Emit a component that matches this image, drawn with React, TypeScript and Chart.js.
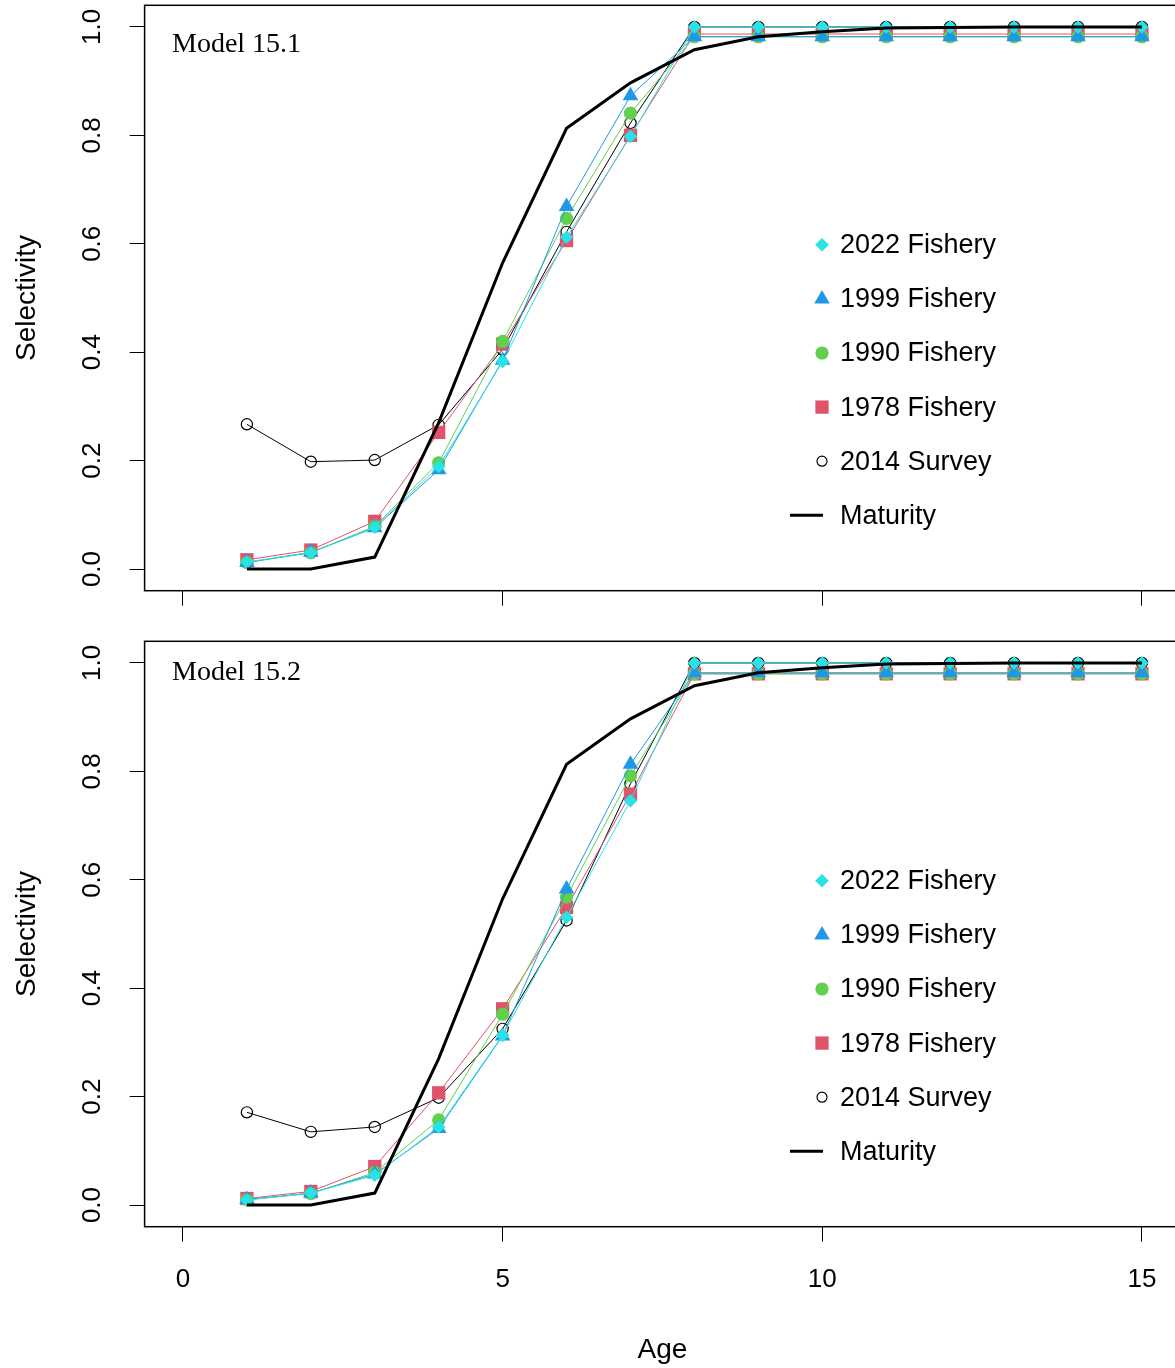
import React, { useEffect, useRef } from "react";
import { Chart, registerables } from "chart.js";
import { drawPoint } from "chart.js/helpers";

Chart.register(...registerables);

// Ages on the x axis and the axis tick values
const ages = [1, 2, 3, 4, 5, 6, 7, 8, 9, 10, 11, 12, 13, 14, 15];
const xTickValues = [0, 5, 10, 15];
const yTickValues = [0, 0.2, 0.4, 0.6, 0.8, 1.0];

// Legend / series names (legend order)
const seriesNames = ["2022 Fishery", "1999 Fishery", "1990 Fishery", "1978 Fishery", "2014 Survey", "Maturity"];

// Proportion mature at age (same in both models)
const maturity = [0.0, 0.0, 0.022, 0.27, 0.565, 0.813, 0.897, 0.958, 0.982, 0.991, 0.998, 0.999, 1.0, 1.0, 1.0];

// Model 15.1 selectivity at age
const m151Fishery2022 = [0.013, 0.03, 0.077, 0.189, 0.383, 0.612, 0.798, 1.0, 1.0, 1.0, 1.0, 1.0, 1.0, 1.0, 1.0];
const m151Fishery1999 = [0.012, 0.031, 0.076, 0.183, 0.385, 0.669, 0.873, 0.982, 0.982, 0.982, 0.982, 0.982, 0.982, 0.982, 0.982];
const m151Fishery1990 = [0.012, 0.03, 0.079, 0.196, 0.42, 0.647, 0.841, 0.982, 0.982, 0.982, 0.982, 0.982, 0.982, 0.982, 0.982];
const m151Fishery1978 = [0.017, 0.035, 0.088, 0.252, 0.415, 0.606, 0.8, 0.987, 0.987, 0.987, 0.987, 0.987, 0.987, 0.987, 0.987];
const m151Survey2014 = [0.267, 0.198, 0.201, 0.266, 0.405, 0.622, 0.823, 1.0, 1.0, 1.0, 1.0, 1.0, 1.0, 1.0, 1.0];

// Model 15.2 selectivity at age
const m152Fishery2022 = [0.009, 0.022, 0.055, 0.144, 0.313, 0.531, 0.746, 1.0, 1.0, 1.0, 1.0, 1.0, 1.0, 1.0, 1.0];
const m152Fishery1999 = [0.01, 0.022, 0.057, 0.141, 0.312, 0.583, 0.813, 0.982, 0.982, 0.982, 0.982, 0.982, 0.982, 0.982, 0.982];
const m152Fishery1990 = [0.01, 0.021, 0.06, 0.157, 0.352, 0.568, 0.792, 0.98, 0.98, 0.98, 0.98, 0.98, 0.98, 0.98, 0.98];
const m152Fishery1978 = [0.012, 0.025, 0.071, 0.207, 0.362, 0.549, 0.758, 0.98, 0.98, 0.98, 0.98, 0.98, 0.98, 0.98, 0.98];
const m152Survey2014 = [0.171, 0.135, 0.144, 0.198, 0.325, 0.525, 0.777, 1.0, 1.0, 1.0, 1.0, 1.0, 1.0, 1.0, 1.0];

// Styles per series, in legend order. "order" controls stacking (lower = drawn on top).
const seriesStyles = [
  { color: "#28E2E5", pointStyle: "rectRot", radius: 6.8, hollow: false, lineWidth: 1, order: 1 },
  { color: "#2297E6", pointStyle: "triangle", radius: 9, hollow: false, lineWidth: 1, order: 2 },
  { color: "#61D04F", pointStyle: "circle", radius: 6.6, hollow: false, lineWidth: 1, order: 3 },
  { color: "#DF536B", pointStyle: "rect", radius: 9.4, hollow: false, lineWidth: 1, order: 4 },
  { color: "#000000", pointStyle: "circle", radius: 5.6, hollow: true, lineWidth: 1, order: 5 },
  { color: "#000000", pointStyle: "line", radius: 0, hollow: false, lineWidth: 3, order: 0 },
];

const SANS = '"Liberation Sans", Arial, sans-serif';
const SERIF = '"Liberation Serif", "Times New Roman", serif';
const CANVAS_W = 1200;
const AREA_LEFT = 144.6;
const AREA_RIGHT = 1180.3;

type PanelSpec = {
  title: string;
  values: number[][];
  top: number;
  height: number;
  areaTop: number;
  areaBottom: number;
  titleBaseline: number;
  showXLabels: boolean;
  xLabelY: number;
};

function makeDecor(p: PanelSpec) {
  return {
    id: "panelDecor",
    beforeDatasetsDraw(chart: any) {
      const { ctx, chartArea: a } = chart;
      ctx.save();
      ctx.strokeStyle = "#000";
      ctx.lineWidth = 1.5;
      ctx.strokeRect(a.left, a.top, a.right - a.left, a.bottom - a.top);
      ctx.restore();
    },
    afterDraw(chart: any) {
      const { ctx, chartArea: a, scales } = chart;
      const ys = scales.y;
      const xs = scales.x;
      ctx.save();
      ctx.fillStyle = "#000";

      // y tick labels, parallel to the axis
      ctx.font = `26px ${SANS}`;
      ctx.textAlign = "center";
      ctx.textBaseline = "middle";
      ys.ticks.forEach((t: any) => {
        const y = ys.getPixelForValue(t.value);
        ctx.save();
        ctx.translate(93, y);
        ctx.rotate(-Math.PI / 2);
        ctx.fillText(Number(t.value).toFixed(1), 0, 0);
        ctx.restore();
      });

      // x tick labels
      if (p.showXLabels) {
        xs.ticks.forEach((t: any) => {
          ctx.fillText(String(t.value), xs.getPixelForValue(t.value), p.xLabelY);
        });
      }

      // panel title
      ctx.font = `28px ${SERIF}`;
      ctx.textAlign = "left";
      ctx.textBaseline = "alphabetic";
      ctx.fillText(p.title, 172, p.titleBaseline);

      // legend
      const markerX = 822;
      const textX = 840;
      const firstRow = a.top + 239.5;
      const rowGap = 54.1;
      ctx.font = `27px ${SANS}`;
      ctx.textBaseline = "middle";
      seriesNames.forEach((name, i) => {
        const s = seriesStyles[i];
        const y = firstRow + i * rowGap;
        ctx.save();
        if (s.pointStyle === "line") {
          ctx.strokeStyle = s.color;
          ctx.lineWidth = s.lineWidth;
          ctx.beginPath();
          ctx.moveTo(790, y);
          ctx.lineTo(823, y);
          ctx.stroke();
        } else {
          ctx.fillStyle = s.hollow ? "rgba(0,0,0,0)" : s.color;
          ctx.strokeStyle = s.color;
          ctx.lineWidth = 1.2;
          drawPoint(ctx, {
            pointStyle: s.pointStyle as any,
            rotation: 0,
            radius: s.hollow ? 5 : s.radius,
            borderWidth: s.hollow ? 1.2 : 0,
          } as any, markerX, y);
        }
        ctx.restore();
        ctx.fillStyle = "#000";
        ctx.fillText(name, textX, y + 1);
      });
      ctx.restore();
    },
  };
}

function Panel(p: PanelSpec) {
  const ref = useRef<HTMLCanvasElement>(null);
  useEffect(() => {
    const datasets = seriesNames.map((name, i) => {
      const s = seriesStyles[i];
      return {
        label: name,
        data: ages.map((a, k) => ({ x: a, y: p.values[i][k] })),
        borderColor: s.color,
        borderWidth: s.lineWidth,
        backgroundColor: s.color,
        pointStyle: s.pointStyle === "line" ? false : (s.pointStyle as any),
        pointRadius: s.radius,
        pointBackgroundColor: s.hollow ? "rgba(0,0,0,0)" : s.color,
        pointBorderColor: s.color,
        pointBorderWidth: s.hollow ? 1.2 : 0,
        tension: 0,
        fill: false,
        order: s.order,
        clip: false as any,
      };
    });
    const chart = new Chart(ref.current!, {
      type: "line",
      data: { datasets },
      options: {
        animation: false,
        responsive: false,
        events: [],
        layout: { padding: { top: p.areaTop, right: CANVAS_W - AREA_RIGHT, left: 0, bottom: 0 } },
        plugins: { legend: { display: false }, tooltip: { enabled: false } },
        scales: {
          x: {
            type: "linear",
            bounds: "data",
            min: -0.6,
            max: 15.6,
            afterBuildTicks: (s: any) => {
              s.ticks = xTickValues.map((v) => ({ value: v }));
            },
            afterFit: (s: any) => {
              s.height = p.height - p.areaBottom;
            },
            ticks: { display: false },
            grid: { drawOnChartArea: false, drawTicks: true, tickLength: 15, color: "#000", lineWidth: 1 },
            border: { display: false },
            title: p.showXLabels
              ? { display: true, text: "Age", color: "#000", font: { family: SANS, size: 28 }, padding: { top: 0, bottom: 1 } }
              : { display: false },
          },
          y: {
            type: "linear",
            bounds: "data",
            min: -0.04,
            max: 1.04,
            afterBuildTicks: (s: any) => {
              s.ticks = yTickValues.map((v) => ({ value: v }));
            },
            afterFit: (s: any) => {
              s.width = AREA_LEFT;
            },
            ticks: { display: false },
            grid: { drawOnChartArea: false, drawTicks: true, tickLength: 15, color: "#000", lineWidth: 1 },
            border: { display: false },
            title: { display: true, text: "Selectivity", color: "#000", font: { family: SANS, size: 28 }, padding: { top: 10, bottom: 0 } },
          },
        },
      } as any,
      plugins: [makeDecor(p) as any],
    });
    return () => chart.destroy();
  }, []);
  return (
    <div style={{ position: "absolute", left: 0, top: p.top, width: CANVAS_W, height: p.height }}>
      <canvas ref={ref} width={CANVAS_W} height={p.height} style={{ width: CANVAS_W, height: p.height, display: "block" }} />
    </div>
  );
}

export default function App() {
  return (
    <div style={{ position: "absolute", left: 0, top: 0, width: 1175, height: 1368, overflow: "hidden", background: "#fff" }}>
      <Panel
        title="Model 15.1"
        values={[m151Fishery2022, m151Fishery1999, m151Fishery1990, m151Fishery1978, m151Survey2014, maturity]}
        top={-6}
        height={636}
        areaTop={11.3}
        areaBottom={596.7}
        titleBaseline={57.7}
        showXLabels={false}
        xLabelY={0}
      />
      <Panel
        title="Model 15.2"
        values={[m152Fishery2022, m152Fishery1999, m152Fishery1990, m152Fishery1978, m152Survey2014, maturity]}
        top={630}
        height={738}
        areaTop={11.3}
        areaBottom={596.7}
        titleBaseline={50}
        showXLabels={true}
        xLabelY={650}
      />
    </div>
  );
}
